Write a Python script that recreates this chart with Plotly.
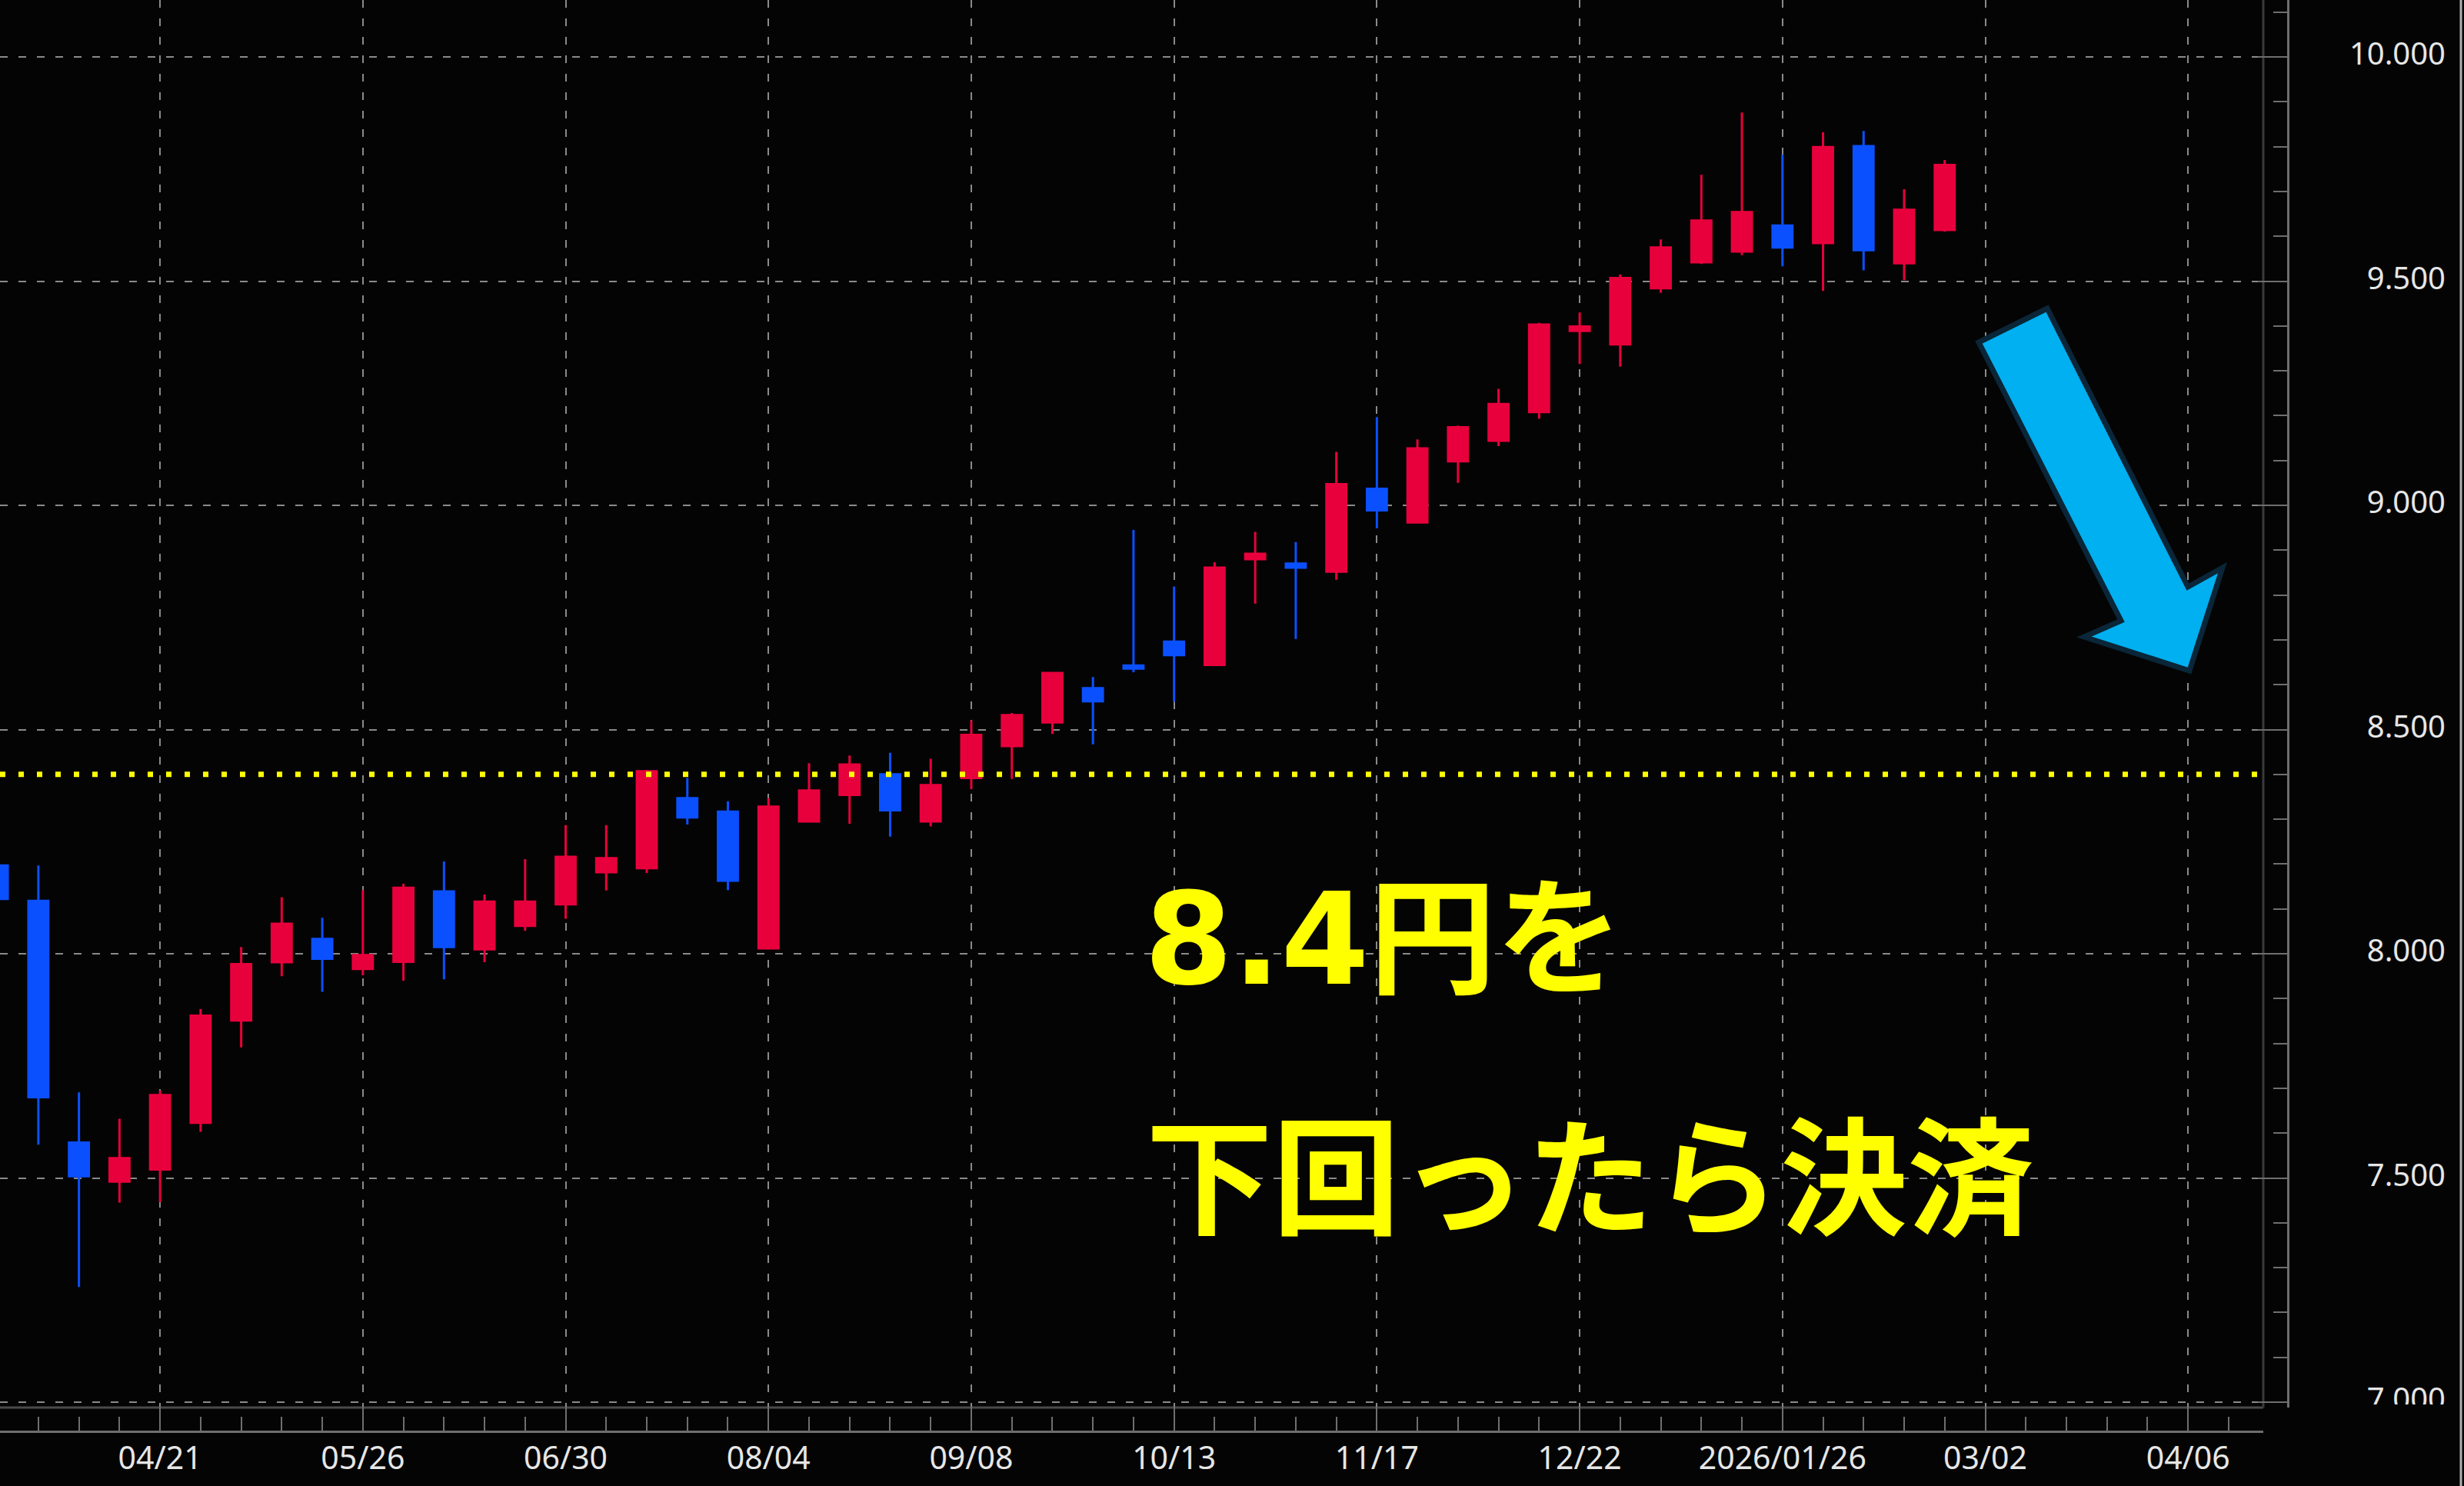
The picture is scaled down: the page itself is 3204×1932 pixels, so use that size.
import plotly.graph_objects as go

W, H = 3204, 1932

# ---------------- data (weekly candles) ----------------
weeks = [
    "2025-03-24", "2025-03-31", "2025-04-07", "2025-04-14", "2025-04-21",
    "2025-04-28", "2025-05-05", "2025-05-12", "2025-05-19", "2025-05-26",
    "2025-06-02", "2025-06-09", "2025-06-16", "2025-06-23", "2025-06-30",
    "2025-07-07", "2025-07-14", "2025-07-21", "2025-07-28", "2025-08-04",
    "2025-08-11", "2025-08-18", "2025-08-25", "2025-09-01", "2025-09-08",
    "2025-09-15", "2025-09-22", "2025-09-29", "2025-10-06", "2025-10-13",
    "2025-10-20", "2025-10-27", "2025-11-03", "2025-11-10", "2025-11-17",
    "2025-11-24", "2025-12-01", "2025-12-08", "2025-12-15", "2025-12-22",
    "2025-12-29", "2026-01-05", "2026-01-12", "2026-01-19", "2026-01-26",
    "2026-02-02", "2026-02-09", "2026-02-16", "2026-02-23",
]
open_ = [
    8.197, 8.118, 7.579, 7.492, 7.519,
    7.623, 7.851, 7.981, 8.033, 7.966,
    7.982, 8.139, 8.010, 8.062, 8.110,
    8.182, 8.191, 8.347, 8.317, 8.012,
    8.295, 8.354, 8.400, 8.295, 8.392,
    8.463, 8.516, 8.592, 8.643, 8.696,
    8.644, 8.880, 8.870, 8.852, 9.037,
    8.962, 9.098, 9.144, 9.208, 9.389,
    9.359, 9.484, 9.542, 9.566, 9.624,
    9.585, 9.801, 9.540, 9.614,
]
high = [
    8.220, 8.197, 7.691, 7.632, 7.695,
    7.877, 8.015, 8.126, 8.080, 8.142,
    8.156, 8.206, 8.132, 8.211, 8.287,
    8.287, 8.410, 8.392, 8.340, 8.347,
    8.425, 8.442, 8.448, 8.435, 8.520,
    8.537, 8.628, 8.617, 8.945, 8.819,
    8.873, 8.941, 8.918, 9.119, 9.197,
    9.147, 9.178, 9.260, 9.407, 9.430,
    9.515, 9.593, 9.737, 9.876, 9.782,
    9.832, 9.835, 9.705, 9.770,
]
low = [
    8.100, 7.574, 7.257, 7.445, 7.446,
    7.603, 7.791, 7.950, 7.915, 7.952,
    7.940, 7.943, 7.981, 8.051, 8.078,
    8.141, 8.180, 8.288, 8.142, 8.010,
    8.294, 8.290, 8.261, 8.284, 8.367,
    8.390, 8.490, 8.467, 8.628, 8.562,
    8.643, 8.781, 8.702, 8.834, 8.949,
    8.960, 9.050, 9.132, 9.193, 9.315,
    9.309, 9.474, 9.538, 9.558, 9.533,
    9.478, 9.524, 9.502, 9.610,
]
close = [
    8.122, 7.680, 7.504, 7.544, 7.685,
    7.862, 7.977, 8.067, 7.989, 7.997,
    8.147, 8.015, 8.116, 8.116, 8.216,
    8.213, 8.407, 8.304, 8.163, 8.328,
    8.364, 8.422, 8.320, 8.376, 8.488,
    8.532, 8.626, 8.563, 8.636, 8.666,
    8.861, 8.892, 8.861, 9.047, 8.989,
    9.127, 9.174, 9.226, 9.403, 9.399,
    9.507, 9.575, 9.635, 9.654, 9.575,
    9.799, 9.569, 9.659, 9.759,
]

threshold = 8.4
x_tick_vals = ["2025-04-21", "2025-05-26", "2025-06-30", "2025-08-04", "2025-09-08",
               "2025-10-13", "2025-11-17", "2025-12-22", "2026-01-26", "2026-03-02",
               "2026-04-06"]
x_tick_text = ["04/21", "05/26", "06/30", "08/04", "09/08", "10/13", "11/17",
               "12/22", "2026/01/26", "03/02", "04/06"]
y_tick_vals = [7.0, 7.5, 8.0, 8.5, 9.0, 9.5, 10.0]
y_tick_text = ["7.000", "7.500", "8.000", "8.500", "9.000", "9.500", "10.000"]
note_num = "8.4"
note_line1_rest = "円を"
note_line2 = "下回ったら決済"

# ---------------- layout helpers (pixel -> paper) ----------------
def px(x):
    return x / W

def py(y):
    return 1 - y / H

BG = "#040404"
RED = "#E8003C"
BLUE = "#0B50FF"
GRID = "#8a8a8a"
AXIS = "#6e6e6e"
TXT = "#e6e6e6"

PPU = 583.0             # pixels per price unit
plot_right = 2943
axis_x = 2975
plot_bottom = 1830
label_clip_bottom = 1826
xaxis_line_y = 1861

def val_at(ypix):
    return 10 - (ypix - 74) / PPU

y_top_val = val_at(0)
y_bot_val = val_at(plot_bottom)
y2_bot_val = val_at(label_clip_bottom)

fig = go.Figure()

fig.add_trace(go.Candlestick(
    x=weeks, open=open_, high=high, low=low, close=close,
    increasing=dict(line=dict(color=RED, width=3), fillcolor=RED),
    decreasing=dict(line=dict(color=BLUE, width=3), fillcolor=BLUE),
    whiskerwidth=0,
    showlegend=False,
    hoverinfo="skip",
))

# right-aligned price labels, clipped at the bottom of the plot area
fig.add_trace(go.Scatter(
    x=[1.0] * len(y_tick_vals), y=y_tick_vals, text=y_tick_text,
    mode="text", textposition="middle left",
    textfont=dict(family="Noto Sans", size=40, color=TXT),
    xaxis="x2", yaxis="y2", showlegend=False, hoverinfo="skip",
    cliponaxis=True,
))

fig.update_layout(
    width=W, height=H,
    margin=dict(l=0, r=0, t=0, b=0),
    paper_bgcolor=BG, plot_bgcolor=BG,
    boxgap=0.3,
    xaxis=dict(
        type="date",
        domain=[0, px(plot_right)],
        range=["2025-03-24 09:07", "2026-04-18 23:30"],
        anchor="free", position=py(xaxis_line_y),
        rangeslider=dict(visible=False),
        tickmode="array", tickvals=x_tick_vals, ticktext=x_tick_text,
        ticks="inside", ticklen=31, tickwidth=2, tickcolor=AXIS,
        minor=dict(tickmode="linear", tick0="2025-03-24", dtick=7 * 86400000,
                   ticks="inside", ticklen=18, tickwidth=2, tickcolor=AXIS,
                   showgrid=False),
        showgrid=True, gridcolor=GRID, gridwidth=2, griddash="10px,14px",
        showline=True, linecolor=AXIS, linewidth=3,
        tickfont=dict(family="Noto Sans", size=41, color=TXT),
        ticklabelstandoff=-2,
        zeroline=False, fixedrange=True,
    ),
    yaxis=dict(
        domain=[py(plot_bottom), 1],
        range=[y_bot_val, y_top_val],
        side="right", anchor="free", position=px(axis_x),
        tickmode="array", tickvals=y_tick_vals,
        showticklabels=False,
        ticks="inside", ticklen=38, tickwidth=2, tickcolor=AXIS,
        minor=dict(tickmode="linear", tick0=7.0, dtick=0.1, ticks="inside",
                   ticklen=18, tickwidth=2, tickcolor=AXIS, showgrid=False),
        showgrid=True, gridcolor=GRID, gridwidth=2, griddash="10px,14px",
        showline=True, linecolor=AXIS, linewidth=3,
        zeroline=False, fixedrange=True,
    ),
    xaxis2=dict(domain=[px(2985), px(3180)], range=[0, 1], visible=False,
                anchor="y2", fixedrange=True),
    yaxis2=dict(domain=[py(label_clip_bottom), 1], range=[y2_bot_val, y_top_val],
                visible=False, anchor="x2", fixedrange=True),
    font=dict(family="Noto Sans", color=TXT),
)

shapes = []
# yellow dotted threshold line
shapes.append(dict(type="line", xref="x domain", yref="y", x0=0, x1=1,
                   y0=threshold, y1=threshold,
                   line=dict(color="#FFFF00", width=7, dash="7px,17px"),
                   layer="above"))
# bottom border line of plot area
shapes.append(dict(type="line", xref="paper", yref="paper",
                   x0=0, x1=px(plot_right), y0=py(plot_bottom), y1=py(plot_bottom),
                   line=dict(color="#4a4a4a", width=3), layer="below"))
# faint vertical separator at the plot right edge
shapes.append(dict(type="line", xref="paper", yref="paper",
                   x0=px(plot_right), x1=px(plot_right), y0=py(plot_bottom), y1=1,
                   line=dict(color="#3a3a3a", width=3), layer="below"))
# far right border
shapes.append(dict(type="line", xref="paper", yref="paper",
                   x0=px(3200), x1=px(3200), y0=0, y1=1,
                   line=dict(color="#b0b0b0", width=3), layer="below"))

# blue arrow (decoration)
arrow_px = [(2573, 445), (2662, 401), (2845, 763), (2890, 738),
            (2847, 872), (2710, 828), (2758, 807)]
path = "M " + " L ".join(f"{px(x):.5f},{py(y):.5f}" for x, y in arrow_px) + " Z"
shapes.append(dict(type="path", xref="paper", yref="paper", path=path,
                   fillcolor="#00B0F0", line=dict(color="#0A2638", width=7),
                   layer="above"))
fig.update_layout(shapes=shapes)

line1 = ('<span style="font-family:\'DejaVu Sans\'">' + note_num + '</span>'
         + note_line1_rest)
fig.add_annotation(text=line1, xref="paper", yref="paper",
                   x=px(1486), y=py(1207), xanchor="left", yanchor="middle",
                   showarrow=False,
                   font=dict(family="Noto Sans CJK JP", size=165, color="#FFFF00",
                             weight="bold"))
fig.add_annotation(text=note_line2, xref="paper", yref="paper",
                   x=px(1488), y=py(1520), xanchor="left", yanchor="middle",
                   showarrow=False,
                   font=dict(family="Noto Sans CJK JP", size=165, color="#FFFF00",
                             weight="bold"))

fig.write_html(
    "out.html",
    config={"displayModeBar": False},
    post_script="document.body.style.margin='0';"
                "document.body.style.background='#040404';"
                "document.documentElement.style.background='#040404';",
)
